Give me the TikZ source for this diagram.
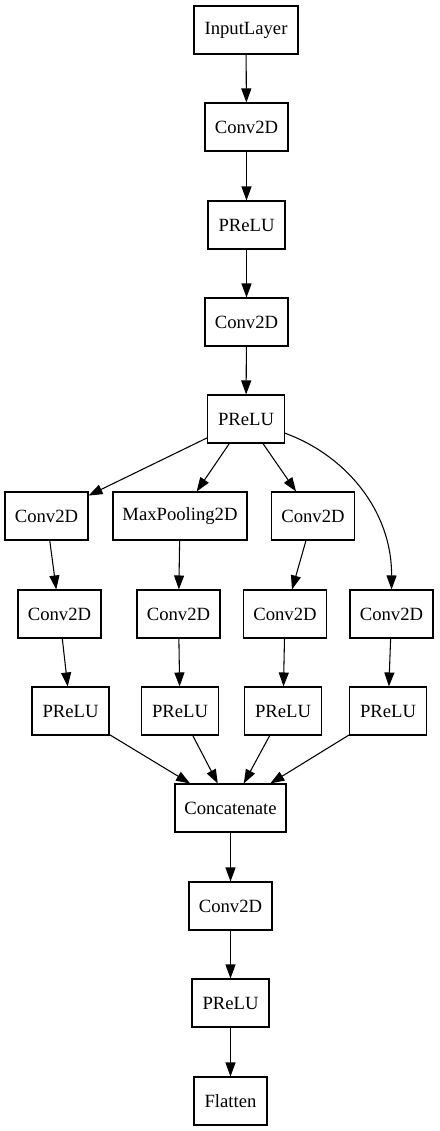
\documentclass[tikz,border=0pt]{standalone}
\usepackage{fontspec}
\setmainfont{Liberation Serif}
\usetikzlibrary{arrows.meta}
\begin{document}
\begin{tikzpicture}[x=0.75pt,y=-0.75pt,
  layer/.style={draw,line width=0.8pt,inner sep=0pt,minimum height=36pt,font=\fontsize{14pt}{16pt}\selectfont},
  w83/.style={layer,minimum width=62.25pt},
  w77/.style={layer,minimum width=57.75pt},
  edge/.style={draw,line width=0.8pt,-{Triangle[length=10.5pt,width=7.5pt]}}]
\useasboundingbox (0,0) rectangle (439,1131);
\node[layer,minimum width=78pt] (in) at (246,30) {InputLayer};
\node[w83] (c1) at (246.5,127) {Conv2D};
\node[w77] (p1) at (246.5,225) {PReLU};
\node[w83] (c2) at (246.5,322) {Conv2D};
\node[w77] (p2) at (246,419) {PReLU};
\node[w83] (b1a) at (46.5,516) {Conv2D};
\node[layer,minimum width=100.5pt] (mp) at (180,516) {MaxPooling2D};
\node[w83] (b3a) at (313,516) {Conv2D};
\node[w83] (b1b) at (59.5,614) {Conv2D};
\node[w83] (b2b) at (178.5,614) {Conv2D};
\node[w83] (b3b) at (285,614) {Conv2D};
\node[w83] (b4b) at (391.5,614) {Conv2D};
\node[w77] (b1p) at (70.5,711) {PReLU};
\node[w77] (b2p) at (180,711) {PReLU};
\node[w77] (b3p) at (283,711) {PReLU};
\node[w77] (b4p) at (388,711) {PReLU};
\node[layer,minimum width=83.25pt] (cat) at (230.5,808) {Concatenate};
\node[w83] (c3) at (230.5,906) {Conv2D};
\node[w77] (p3) at (230.5,1003) {PReLU};
\node[layer,minimum width=54.75pt] (fl) at (230.5,1101) {Flatten};
\path[edge] (in) -- (c1);
\path[edge] (c1) -- (p1);
\path[edge] (p1) -- (c2);
\path[edge] (c2) -- (p2);
\path[edge] (p2) -- (b1a);
\path[edge] (p2) -- (mp);
\path[edge] (p2) -- (b3a);
\path[edge] (p2.-20) .. controls (345,455) and (392,510) .. (b4b.north);
\path[edge] (b1a) -- (b1b);
\path[edge] (mp) -- (b2b);
\path[edge] (b3a) -- (b3b);
\path[edge] (b1b) -- (b1p);
\path[edge] (b2b) -- (b2p);
\path[edge] (b3b) -- (b3p);
\path[edge] (b4b) -- (b4p);
\path[edge] (b1p) -- (cat);
\path[edge] (b2p) -- (cat);
\path[edge] (b3p) -- (cat);
\path[edge] (b4p) -- (cat);
\path[edge] (cat) -- (c3);
\path[edge] (c3) -- (p3);
\path[edge] (p3) -- (fl);
\end{tikzpicture}
\end{document}
